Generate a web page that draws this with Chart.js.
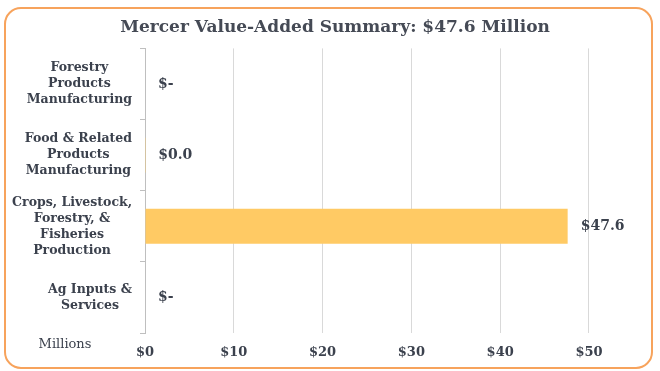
<!DOCTYPE html>
<html>
<head>
<meta charset="utf-8">
<script src="https://cdn.jsdelivr.net/npm/chart.js@4"></script>
<style>
  html, body { margin: 0; padding: 0; background: #fff; }
  #wrap { width: 660px; height: 371px; }
</style>
</head>
<body>
<div id="wrap"><canvas id="chart" width="660" height="371"></canvas></div>
<script>
// Value added by sector, millions of dollars
const categories = [
  ['Forestry', 'Products', 'Manufacturing'],
  ['Food & Related', 'Products', 'Manufacturing'],
  ['Crops, Livestock,', 'Forestry, &', 'Fisheries', 'Production'],
  ['Ag Inputs &', 'Services'],
];
const valueAdded = [0, 0.02, 47.6, 0];
const xTicks = [0, 10, 20, 30, 40, 50];
const xMax = 58;
const chartTitle = 'Mercer Value-Added Summary: $47.6 Million';
const unitLabel = 'Millions';

const SERIF = '"DejaVu Serif", Georgia, serif';
const TEXT = '#3b414d';

// accounting style: zero shows as "$-"
const money = (v) => (v === 0 ? '$-' : '$' + v.toFixed(1));

const frame = {
  id: 'frame',
  beforeDraw(chart) {
    const { ctx } = chart;
    ctx.save();
    ctx.fillStyle = '#fff';
    ctx.fillRect(0, 0, chart.width, chart.height);
    ctx.strokeStyle = '#f7a35c';
    ctx.lineWidth = 2;
    ctx.beginPath();
    ctx.roundRect(5, 8, 647, 360, 16);
    ctx.stroke();
    ctx.restore();
  },
};

// multi-line category names: block right-aligned to the axis, lines centred in the block
const categoryLabels = {
  id: 'categoryLabels',
  afterDraw(chart) {
    const { ctx } = chart;
    const y = chart.scales.y;
    ctx.save();
    ctx.font = 'bold 12.5px ' + SERIF;
    ctx.fillStyle = TEXT;
    ctx.textAlign = 'center';
    ctx.textBaseline = 'middle';
    const right = y.right - 13;
    const lh = 16;
    categories.forEach((lines, i) => {
      const w = Math.max(...lines.map((l) => ctx.measureText(l).width));
      const cx = right - w / 2;
      const cy = y.getPixelForValue(i);
      lines.forEach((l, j) => {
        ctx.fillText(l, cx, cy + (j - (lines.length - 1) / 2) * lh);
      });
    });

    ctx.font = '13px ' + SERIF;
    ctx.fillText(unitLabel, 65, 345);
    ctx.restore();
  },
};

const valueLabels = {
  id: 'valueLabels',
  afterDatasetsDraw(chart) {
    const { ctx } = chart;
    const x = chart.scales.x;
    const y = chart.scales.y;
    ctx.save();
    ctx.font = 'bold 14px ' + SERIF;
    ctx.fillStyle = TEXT;
    ctx.textAlign = 'left';
    ctx.textBaseline = 'middle';
    valueAdded.forEach((v, i) => {
      ctx.fillText(money(v), x.getPixelForValue(v) + 13, y.getPixelForValue(i));
    });
    ctx.restore();
  },
};

new Chart(document.getElementById('chart'), {
  type: 'bar',
  data: {
    labels: categories.map((c) => c.join(' ')),
    datasets: [
      {
        data: valueAdded,
        backgroundColor: '#ffca64',
        barPercentage: 0.49,
        categoryPercentage: 1,
      },
    ],
  },
  options: {
    indexAxis: 'y',
    responsive: false,
    animation: false,
    layout: { padding: { left: 10, right: 0, top: 0, bottom: 0 } },
    plugins: {
      legend: { display: false },
      tooltip: { enabled: false },
      title: {
        display: true,
        text: chartTitle,
        color: '#454a55',
        font: { family: SERIF, size: 17, weight: 'bold' },
        padding: { top: 17, bottom: 11 },
      },
    },
    scales: {
      x: {
        min: 0,
        max: xMax,
        afterBuildTicks: (scale) => {
          scale.ticks = xTicks.map((v) => ({ value: v }));
        },
        afterFit: (scale) => {
          scale.height = 38;
        },
        grid: { color: '#d9d9d9', drawTicks: false },
        border: { display: false },
        ticks: {
          padding: 12,
          color: TEXT,
          font: { family: SERIF, size: 13, weight: 'bold' },
          callback: (v) => '$' + v,
        },
      },
      y: {
        afterFit: (scale) => {
          scale.width = 135;
        },
        grid: { offset: true, drawOnChartArea: false, tickLength: 5, color: '#bfbfbf' },
        border: { color: '#bfbfbf' },
        ticks: { display: false },
      },
    },
  },
  plugins: [frame, categoryLabels, valueLabels],
});
</script>
</body>
</html>
